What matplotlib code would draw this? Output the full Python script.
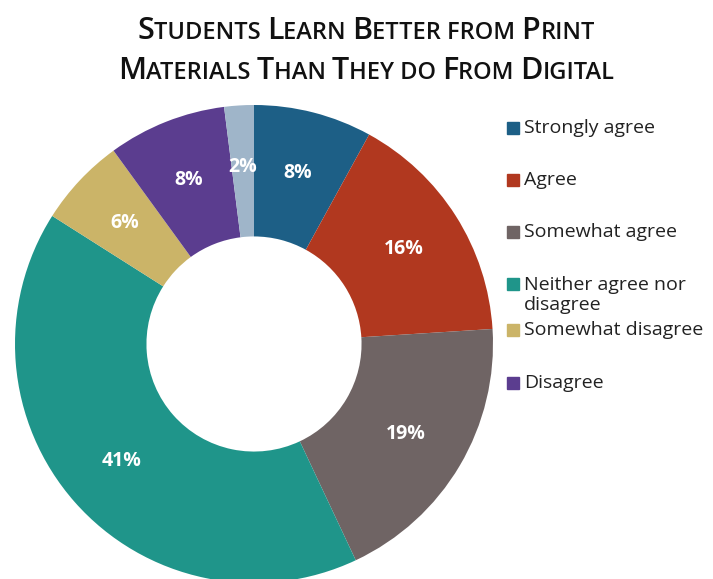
import matplotlib
matplotlib.use("Agg")
import matplotlib.pyplot as plt
from matplotlib.patches import Rectangle

labels = ["Strongly agree", "Agree", "Somewhat agree", "Neither agree nor\ndisagree",
          "Somewhat disagree", "Disagree", "Strongly disagree"]
values = [8, 16, 19, 41, 6, 8, 2]
colors = ["#1d5f86", "#b1381f", "#6f6464", "#1f958a", "#cbb468", "#5b3d8f", "#9fb5c9"]
legend_n = 6  # last category is not shown in the legend (cut off in the original)

title_lines = [
    [("S", 1), ("TUDENTS ", 0), ("L", 1), ("EARN ", 0), ("B", 1), ("ETTER FROM ", 0), ("P", 1), ("RINT", 0)],
    [("M", 1), ("ATERIALS ", 0), ("T", 1), ("HAN ", 0), ("T", 1), ("HEY DO ", 0), ("F", 1), ("ROM ", 0),
     ("D", 1), ("IGITAL", 0)],
]

W, H = 713, 579
fig = plt.figure(figsize=(W / 100, H / 100), dpi=100)

# donut
cx, cy, R = 254, 344, 239
ax = fig.add_axes([(cx - R) / W, (H - cy - R) / H, 2 * R / W, 2 * R / H])
wedges, texts, autotexts = ax.pie(
    values, colors=colors, startangle=90, counterclock=False, radius=1,
    wedgeprops=dict(width=0.55, edgecolor="none"),
    autopct="%d%%", pctdistance=0.74,
    textprops=dict(color="white", fontsize=14, fontweight="bold", family="Open Sans"),
)
ax.set_xlim(-1, 1)
ax.set_ylim(-1, 1)
ax.set_aspect("equal")
ax.axis("off")

# title with small caps look
fig.canvas.draw()
renderer = fig.canvas.get_renderer()
line_y = [H - 39, H - 79]
for pieces, y in zip(title_lines, line_y):
    items = []
    for s, big in pieces:
        t = fig.text(0, y / H, s, fontsize=22 if big else 17, family="Open Sans",
                     fontweight="semibold", color="#111111", va="baseline", ha="left")
        items.append(t)
    widths = [t.get_window_extent(renderer).width for t in items]
    x = 366 - sum(widths) / 2
    for t, w in zip(items, widths):
        t.set_x(x / W)
        x += w

# legend
leg_y = [128, 180, 232, 295, 330, 383]
for i in range(legend_n):
    y = leg_y[i]
    two = "\n" in labels[i]
    sq_y = y - 11 if two else y
    fig.patches.append(Rectangle((507 / W, (H - sq_y - 6) / H), 12 / W, 12 / H,
                                 transform=fig.transFigure, color=colors[i]))
    fig.text(524 / W, (H - y) / H, labels[i], fontsize=14, family="Open Sans",
             color="#222222", va="center", ha="left", linespacing=1.2)

fig.savefig("out.png", dpi=100)
